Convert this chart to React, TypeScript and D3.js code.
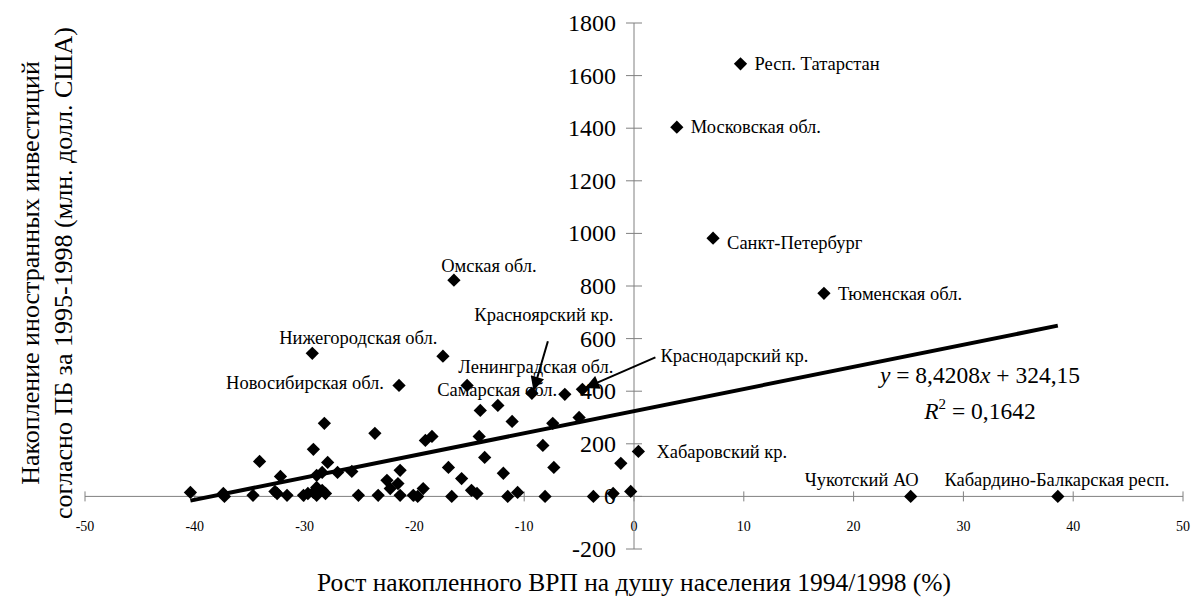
import React from 'react';
import * as d3 from 'd3';

// Рост накопленного ВРП (%) и накопленные иностранные инвестиции (млн. долл. США)
const growthX = [
  9.7, 3.9, 7.2, 17.3, -16.4, -29.3, -21.4, -9.3, -6.3, -15.2, -4.7, 0.4, 25.2, 38.6,
  -17.4, -14.0, -12.4, -11.1, -7.4, -5.0, -19.0, -18.4, -14.1, -13.6, -16.9, -15.7,
  -11.9, -8.3, -7.3, -1.2, -21.3, -21.5, -20.1, -19.2, -19.7, -16.6, -14.8, -14.3,
  -11.5, -10.6, -8.1, -3.7, -1.9, -0.3, -28.2, -23.6, -29.2, -34.1, -27.9, -32.2,
  -28.9, -28.4, -25.7, -27.0, -22.5, -22.2, -40.4, -37.4, -37.3, -34.7, -32.7, -32.5,
  -31.6, -30.1, -29.7, -29.2, -28.9, -28.4, -28.1, -25.1, -23.3, -21.3, -28.9,
];
const investY = [
  1645, 1404, 982, 772, 822, 544, 422, 392, 388, 422, 407, 171, 0, 0,
  533, 327, 346, 285, 278, 300, 213, 228, 228, 148, 110, 68,
  88, 194, 110, 126, 99, 49, 4, 30, 0, 0, 23, 11,
  0, 15, 0, 0, 11, 19, 278, 240, 179, 133, 129, 76,
  80, 91, 95, 91, 61, 30, 15, 11, 0, 4, 19, 11,
  4, 4, 11, 15, 4, 23, 11, 4, 4, 4, 34,
];
const regionNames = [
  'Респ. Татарстан', 'Московская обл.', 'Санкт-Петербург', 'Тюменская обл.', 'Омская обл.',
  'Нижегородская обл.', 'Новосибирская обл.', 'Красноярский кр.', 'Ленинградская обл.',
  'Самарская обл.', 'Краснодарский кр.', 'Хабаровский кр.', 'Чукотский АО',
  'Кабардино-Балкарская респ.',
];

const xTicks = [-50, -40, -30, -20, -10, 0, 10, 20, 30, 40, 50];
const yTicks = [-200, 0, 200, 400, 600, 800, 1000, 1200, 1400, 1600, 1800];
const trendSlope = 8.4208;
const trendIntercept = 324.15;

// label placement relative to the point: [dx, dy, anchor]
const labelPlace: Record<string, [number, number, string]> = {
  'Респ. Татарстан': [14, 0, 'start'],
  'Московская обл.': [14, 0, 'start'],
  'Санкт-Петербург': [14, 5, 'start'],
  'Тюменская обл.': [14, 1, 'start'],
  'Омская обл.': [35, -14, 'middle'],
  'Нижегородская обл.': [46, -15, 'middle'],
  'Новосибирская обл.': [-94, -2, 'middle'],
  'Красноярский кр.': [12, -78, 'middle'],
  'Ленинградская обл.': [-29, -27, 'middle'],
  'Самарская обл.': [30, 5, 'middle'],
  'Краснодарский кр.': [152, -33, 'middle'],
  'Хабаровский кр.': [18, 1, 'start'],
  'Чукотский АО': [-49, -16, 'middle'],
  'Кабардино-Балкарская респ.': [-1, -16, 'middle'],
};

const W = 1192;
const H = 607;
const font = "'Liberation Serif', 'Times New Roman', serif";

export default function App() {
  const x = d3.scaleLinear().domain([-50, 50]).range([85, 1183]);
  const y = d3.scaleLinear().domain([-200, 1800]).range([549, 23]);
  const diamond = d3.symbol(d3.symbolSquare, 88)();

  const pts = growthX.map((gx, i) => ({ x: gx, y: investY[i], name: regionNames[i] || '' }));
  const xMin = d3.min(growthX) as number;
  const xMax = d3.max(growthX) as number;
  const trend = d3.line<number>()
    .x((d) => x(d))
    .y((d) => y(trendSlope * d + trendIntercept))([xMin, xMax]);

  const axisColor = '#808080';

  return (
    <svg width={W} height={H}
      style={{ position: 'absolute', left: 0, top: 0, background: '#fff', fontFamily: font }}>
      <defs>
        <marker id="ahBig" viewBox="0 0 10 10" refX="9" refY="5" markerWidth="16" markerHeight="14"
          orient="auto" markerUnits="userSpaceOnUse">
          <path d="M0,0 L10,5 L0,10 z" fill="#000" />
        </marker>
      </defs>

      {/* X axis */}
      <line x1={x(-50)} x2={x(50)} y1={y(0)} y2={y(0)} stroke={axisColor} />
      {xTicks.map((t) => (
        <g key={'xt' + t}>
          <line x1={x(t)} x2={x(t)} y1={y(0) - 5} y2={y(0) + 5} stroke={axisColor} />
          <text x={x(t)} y={y(0) + 35} fontSize={14} textAnchor="middle">{t}</text>
        </g>
      ))}

      {/* Y axis */}
      <line x1={x(0)} x2={x(0)} y1={y(-200)} y2={y(1800)} stroke={axisColor} />
      {yTicks.map((t) => (
        <g key={'yt' + t}>
          <line x1={x(0) - 8} x2={x(0) + 8} y1={y(t)} y2={y(t)} stroke={axisColor} />
          <text x={x(0) - 18} y={y(t) + 8} fontSize={24} textAnchor="end">{t}</text>
        </g>
      ))}

      {/* points */}
      {pts.map((p, i) => (
        <path key={'p' + i} d={diamond || ''}
          transform={`translate(${x(p.x)},${y(p.y)}) rotate(45)`} fill="#000" />
      ))}

      {/* trend line */}
      <path d={trend || ''} stroke="#000" strokeWidth={4} fill="none" />

      {/* labels */}
      {pts.filter((p) => p.name).map((p) => {
        const [dx, dy, anchor] = labelPlace[p.name];
        const px = x(p.x);
        const py = y(p.y);
        return (
          <g key={'l' + p.name}>
            <text x={px + dx} y={py + dy + 6} fontSize={18.5} textAnchor={anchor}>{p.name}</text>
            {p.name === 'Красноярский кр.' && (
              <line x1={px + 16} y1={py - 52} x2={px + 2} y2={py - 4} stroke="#000" strokeWidth={2}
                markerEnd="url(#ahBig)" />
            )}
            {p.name === 'Краснодарский кр.' && (
              <line x1={px + 73} y1={py - 32} x2={px + 4} y2={py - 2} stroke="#000" strokeWidth={2}
                markerEnd="url(#ahBig)" />
            )}
          </g>
        );
      })}

      {/* trend equation */}
      <text x={980} y={383} fontSize={23.5} textAnchor="middle">
        <tspan fontStyle="italic">y</tspan> = 8,4208<tspan fontStyle="italic">x</tspan>{'  + 324,15'}
      </text>
      <text x={980} y={419} fontSize={23.5} textAnchor="middle">
        <tspan fontStyle="italic">R</tspan><tspan dy={-10} fontSize={15}>2</tspan><tspan dy={10}> = 0,1642</tspan>
      </text>

      {/* axis titles */}
      <text x={634} y={591} fontSize={25.5} textAnchor="middle">
        Рост накопленного ВРП на душу населения 1994/1998 (%)
      </text>
      <text transform="translate(39,273) rotate(-90)" fontSize={26} textAnchor="middle">
        Накопление иностранных инвестиций
      </text>
      <text transform="translate(72,273) rotate(-90)" fontSize={26} textAnchor="middle">
        согласно ПБ за 1995-1998 (млн. долл. США)
      </text>
    </svg>
  );
}
